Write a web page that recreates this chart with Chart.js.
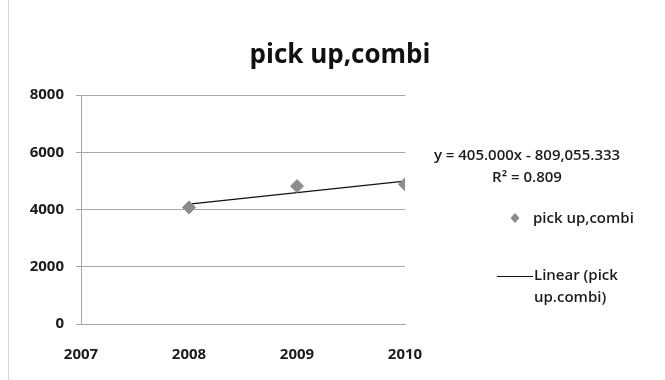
<!DOCTYPE html>
<html>
<head>
<meta charset="utf-8">
<script src="https://cdn.jsdelivr.net/npm/chart.js@4/dist/chart.umd.min.js"></script>
<style>
  html, body { margin: 0; padding: 0; background: #ffffff; }
  .frame { position: relative; width: 665px; height: 380px; }
  .frame::before {
    content: ""; position: absolute; left: 8px; top: 0; bottom: 0;
    border-left: 1px solid #d8d8d8;
  }
  canvas { display: block; }
</style>
</head>
<body>
<div class="frame">
  <canvas id="myChart" width="665" height="380"></canvas>
</div>
<script>
// yearly figures for pick up / combi
const years = [2008, 2009, 2010];
const values = [4071, 4817, 4881];

// linear trend shown in the label
const trendSlope = 405.0;
const trendIntercept = -809055.333;
const rSquared = 0.809;

const yTicks = [0, 2000, 4000, 6000, 8000];
const xTicks = [2007, 2008, 2009, 2010];

const seriesName = 'pick up,combi';
const fontFamily = '"Open Sans", "Noto Sans", "Liberation Sans", sans-serif';

const points = years.map((x, i) => ({ x: x, y: values[i] }));
const trendPoints = [years[0], years[years.length - 1]].map((x) => ({
    x: x,
    y: trendSlope * x + trendIntercept
}));

function fmt(n) {
    return Math.abs(n).toLocaleString('en-US', { minimumFractionDigits: 3, maximumFractionDigits: 3 });
}

// title, equation and legend drawn around the plot
const sideLabels = {
    id: 'sideLabels',
    afterDraw(chart) {
        const ctx = chart.ctx;
        ctx.save();
        ctx.fillStyle = '#111';
        ctx.textBaseline = 'middle';
        ctx.textAlign = 'center';
        ctx.font = 'bold 26px ' + fontFamily;
        ctx.fillText(seriesName, 340, 56);

        ctx.fillStyle = '#1c1c1c';
        ctx.font = '600 15px ' + fontFamily;
        const sign = trendIntercept < 0 ? ' - ' : ' + ';
        ctx.fillText('y = ' + fmt(trendSlope) + 'x' + sign + fmt(trendIntercept), 527, 156);
        ctx.fillText('R\u00B2 = ' + rSquared.toFixed(3), 527, 178);

        // legend: marker entry
        ctx.textAlign = 'left';
        ctx.fillStyle = '#8c8c8c';
        ctx.beginPath();
        ctx.moveTo(515, 213);
        ctx.lineTo(519.5, 218);
        ctx.lineTo(515, 223);
        ctx.lineTo(510.5, 218);
        ctx.closePath();
        ctx.fill();
        ctx.fillStyle = '#1c1c1c';
        ctx.fillText(seriesName, 533, 219);

        // legend: trend line entry
        ctx.strokeStyle = '#111';
        ctx.lineWidth = 1;
        ctx.beginPath();
        ctx.moveTo(497, 276.5);
        ctx.lineTo(533, 276.5);
        ctx.stroke();
        ctx.fillText('Linear (pick', 534, 276);
        ctx.fillText('up.combi)', 534, 298);
        ctx.restore();
    }
};

const tickFont = { family: fontFamily, size: 15, weight: 'bold' };

const chart = new Chart(document.getElementById('myChart'), {
    type: 'scatter',
    data: {
        datasets: [{
            label: seriesName,
            data: points,
            pointStyle: 'rectRot',
            pointRadius: 6.5,
            pointBackgroundColor: '#8c8c8c',
            pointBorderColor: '#8c8c8c',
            showLine: false
        }, {
            label: 'Linear (pick up.combi)',
            data: trendPoints,
            showLine: true,
            borderColor: '#111',
            borderWidth: 1.3,
            pointRadius: 0
        }]
    },
    options: {
        responsive: false,
        animation: false,
        layout: { padding: { left: 0, right: 260, top: 95, bottom: 0 } },
        plugins: {
            legend: { display: false },
            tooltip: { enabled: false },
            title: { display: false }
        },
        scales: {
            x: {
                type: 'linear',
                min: xTicks[0],
                max: xTicks[xTicks.length - 1],
                afterBuildTicks: (axis) => { axis.ticks = xTicks.map((v) => ({ value: v })); },
                afterFit: (axis) => { axis.height = 56; },
                grid: { display: false, drawTicks: false },
                border: { color: '#a6a6a6' },
                ticks: {
                    color: '#1c1c1c',
                    padding: 22,
                    font: tickFont,
                    callback: (v) => String(v)
                }
            },
            y: {
                min: yTicks[0],
                max: yTicks[yTicks.length - 1],
                afterBuildTicks: (axis) => { axis.ticks = yTicks.map((v) => ({ value: v })); },
                afterFit: (axis) => { axis.width = 81; },
                grid: { color: '#a6a6a6', tickLength: 5 },
                border: { color: '#a6a6a6' },
                ticks: {
                    color: '#1c1c1c',
                    padding: 12,
                    font: tickFont,
                    callback: (v) => String(v)
                }
            }
        }
    },
    plugins: [sideLabels]
});
</script>
</body>
</html>
